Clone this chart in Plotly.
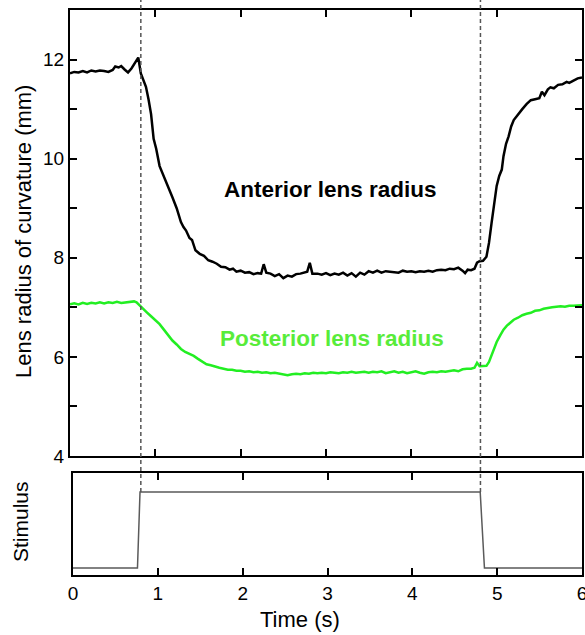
import plotly.graph_objects as go

# Anterior lens radius of curvature (mm) over time (s)
anterior_t = [0.00, 0.05, 0.10, 0.15, 0.20, 0.25, 0.30, 0.35, 0.40, 0.45, 0.50, 0.53, 0.57, 0.60, 0.64,
              0.68, 0.72, 0.76, 0.80, 0.83, 0.86, 0.89, 0.92, 0.95, 0.98, 1.01, 1.05, 1.10, 1.15, 1.20,
              1.25, 1.30, 1.33, 1.36, 1.40, 1.43, 1.47, 1.52, 1.57, 1.62, 1.67, 1.72, 1.77, 1.82, 1.87,
              1.91, 1.95, 2.00, 2.05, 2.10, 2.15, 2.20, 2.24, 2.27, 2.30, 2.35, 2.40, 2.45, 2.50, 2.55,
              2.60, 2.65, 2.70, 2.75, 2.78, 2.81, 2.84, 2.90, 2.95, 3.00, 3.05, 3.10, 3.15, 3.20, 3.25,
              3.30, 3.35, 3.40, 3.45, 3.50, 3.55, 3.60, 3.65, 3.70, 3.75, 3.80, 3.85, 3.90, 3.95, 4.00,
              4.05, 4.10, 4.15, 4.20, 4.25, 4.30, 4.35, 4.40, 4.45, 4.50, 4.55, 4.60, 4.63, 4.66, 4.70,
              4.74, 4.77, 4.80, 4.84, 4.88, 4.91, 4.94, 4.97, 5.00, 5.03, 5.06, 5.08, 5.11, 5.14, 5.17,
              5.20, 5.25, 5.30, 5.35, 5.40, 5.45, 5.50, 5.53, 5.56, 5.60, 5.63, 5.67, 5.72, 5.77, 5.82,
              5.85, 5.90, 5.95, 6.00]
anterior_r = [11.72, 11.75, 11.74, 11.77, 11.74, 11.78, 11.76, 11.78, 11.77, 11.75, 11.79, 11.86, 11.84, 11.87, 11.80,
              11.74, 11.82, 11.93, 12.04, 11.72, 11.60, 11.45, 11.20, 10.90, 10.40, 10.20, 9.85, 9.65, 9.42, 9.22,
              9.00, 8.72, 8.62, 8.55, 8.40, 8.36, 8.15, 8.08, 8.04, 7.95, 7.92, 7.88, 7.82, 7.81, 7.76,
              7.78, 7.72, 7.74, 7.70, 7.71, 7.67, 7.69, 7.68, 7.87, 7.70, 7.68, 7.63, 7.67, 7.59, 7.64,
              7.62, 7.67, 7.68, 7.70, 7.72, 7.90, 7.68, 7.68, 7.66, 7.69, 7.65, 7.68, 7.66, 7.70, 7.64,
              7.69, 7.62, 7.70, 7.66, 7.73, 7.70, 7.74, 7.70, 7.73, 7.72, 7.72, 7.70, 7.74, 7.72, 7.73,
              7.71, 7.73, 7.72, 7.74, 7.72, 7.75, 7.76, 7.75, 7.78, 7.77, 7.80, 7.74, 7.69, 7.76, 7.75,
              7.78, 7.90, 7.93, 7.94, 8.02, 8.30, 8.70, 9.05, 9.45, 9.65, 9.78, 10.05, 10.30, 10.45, 10.65,
              10.78, 10.90, 11.00, 11.10, 11.18, 11.20, 11.22, 11.35, 11.28, 11.40, 11.44, 11.42, 11.49, 11.50, 11.55,
              11.53, 11.58, 11.62, 11.64]

# Posterior lens radius of curvature (mm) over time (s)
posterior_t = [0.00, 0.05, 0.10, 0.15, 0.20, 0.25, 0.30, 0.35, 0.40, 0.45, 0.50, 0.55, 0.60, 0.65, 0.70,
               0.75, 0.78, 0.82, 0.86, 0.90, 0.95, 1.00, 1.05, 1.10, 1.15, 1.20, 1.25, 1.30, 1.35, 1.40,
               1.45, 1.50, 1.55, 1.60, 1.65, 1.70, 1.75, 1.80, 1.85, 1.90, 1.95, 2.00, 2.05, 2.10, 2.15,
               2.20, 2.25, 2.30, 2.35, 2.40, 2.45, 2.50, 2.55, 2.60, 2.65, 2.70, 2.75, 2.80, 2.85, 2.90,
               2.95, 3.00, 3.05, 3.10, 3.15, 3.20, 3.25, 3.30, 3.35, 3.40, 3.45, 3.50, 3.55, 3.60, 3.65,
               3.70, 3.75, 3.80, 3.85, 3.90, 3.95, 4.00, 4.05, 4.10, 4.15, 4.20, 4.25, 4.30, 4.35, 4.40,
               4.45, 4.50, 4.55, 4.60, 4.65, 4.70, 4.74, 4.77, 4.80, 4.84, 4.88, 4.91, 4.94, 4.97, 5.00,
               5.04, 5.08, 5.12, 5.16, 5.20, 5.25, 5.30, 5.35, 5.40, 5.45, 5.50, 5.55, 5.60, 5.65, 5.70,
               5.75, 5.80, 5.85, 5.90, 5.95, 6.00]
posterior_r = [7.06, 7.08, 7.06, 7.09, 7.07, 7.09, 7.08, 7.10, 7.08, 7.10, 7.09, 7.11, 7.09, 7.10, 7.11,
               7.12, 7.10, 7.04, 6.96, 6.90, 6.82, 6.74, 6.66, 6.55, 6.43, 6.33, 6.25, 6.16, 6.10, 6.06,
               6.02, 5.96, 5.90, 5.85, 5.83, 5.80, 5.78, 5.76, 5.74, 5.74, 5.72, 5.72, 5.70, 5.71, 5.69,
               5.70, 5.68, 5.69, 5.67, 5.68, 5.66, 5.65, 5.63, 5.65, 5.66, 5.65, 5.67, 5.66, 5.68, 5.67,
               5.68, 5.67, 5.69, 5.68, 5.67, 5.69, 5.68, 5.70, 5.68, 5.69, 5.70, 5.68, 5.70, 5.69, 5.71,
               5.67, 5.69, 5.71, 5.68, 5.70, 5.67, 5.69, 5.71, 5.68, 5.66, 5.69, 5.70, 5.69, 5.71, 5.70,
               5.72, 5.73, 5.71, 5.75, 5.76, 5.76, 5.78, 5.88, 5.81, 5.82, 5.82, 5.90, 6.03, 6.17, 6.30,
               6.43, 6.55, 6.63, 6.70, 6.75, 6.79, 6.84, 6.87, 6.89, 6.93, 6.94, 6.97, 6.99, 7.00, 7.01,
               7.02, 7.01, 7.03, 7.03, 7.04, 7.04]

# Stimulus trace (off = 0, on = 1)
stimulus_t = [0.00, 0.76, 0.79, 4.80, 4.85, 6.00]
stimulus_v = [0, 0, 1, 1, 0, 0]

# Stimulus onset / offset markers (s)
event_times = [0.83, 4.81]

x_ticks = [0, 1, 2, 3, 4, 5, 6]
y_ticks = [4, 5, 6, 7, 8, 9, 10, 11, 12]
y_ticklabels = ["4", "", "6", "", "8", "", "10", "", "12"]

W, H = 585, 635
FONT = "Liberation Sans, Arial, Helvetica, sans-serif"
GREEN_LINE = "#22ee22"
GREEN_TEXT = "#58ec3a"


def px_x(p):
    return p / W


def px_y(p):
    return 1 - p / H


fig = go.Figure()

fig.add_trace(go.Scatter(x=anterior_t, y=anterior_r, mode="lines",
                         line=dict(color="black", width=2.5), xaxis="x", yaxis="y",
                         showlegend=False, hoverinfo="skip"))
fig.add_trace(go.Scatter(x=posterior_t, y=posterior_r, mode="lines",
                         line=dict(color=GREEN_LINE, width=2.5), xaxis="x", yaxis="y",
                         showlegend=False, hoverinfo="skip"))
fig.add_trace(go.Scatter(x=stimulus_t, y=stimulus_v, mode="lines",
                         line=dict(color="#5a5a5a", width=1.5), xaxis="x2", yaxis="y2",
                         showlegend=False, hoverinfo="skip"))

axis_common = dict(showgrid=False, zeroline=False, showline=True, linecolor="black", linewidth=2,
                   ticks="inside", ticklen=7, tickwidth=2, tickcolor="black", automargin=False,
                   tickfont=dict(family=FONT, size=19, color="black"))

fig.update_layout(
    width=W, height=H,
    margin=dict(l=0, r=0, t=0, b=0, autoexpand=False),
    paper_bgcolor="white", plot_bgcolor="white",
    font=dict(family=FONT, color="black"),
    xaxis=dict(domain=[px_x(70), px_x(582)], range=[0, 6], tickvals=x_ticks,
               showticklabels=False, mirror="ticks", anchor="y", **axis_common),
    yaxis=dict(domain=[px_y(456), px_y(10)], range=[4, 13], tickvals=y_ticks,
               ticktext=y_ticklabels, mirror="ticks", anchor="x", **axis_common),
    xaxis2=dict(domain=[px_x(73), px_x(582)], range=[0, 6], tickvals=x_ticks,
                mirror="ticks", anchor="y2", ticklabeloverflow="allow", **axis_common),
    yaxis2=dict(domain=[px_y(575), px_y(473)], range=[-0.092, 1.25], anchor="x2",
                showgrid=False, zeroline=False, showline=True, linecolor="black", linewidth=2,
                mirror=True, ticks="", showticklabels=False, automargin=False),
)

# Dashed markers at stimulus onset and offset, spanning both panels
for t in event_times:
    fig.add_shape(type="line", xref="x", yref="paper", x0=t, x1=t,
                  y0=px_y(492), y1=1.0,
                  line=dict(color="#555555", width=1.5, dash="4px,3px"))

annotations = [
    dict(text="Anterior lens radius", x=3.05, y=9.38, xref="x", yref="y",
         font=dict(family=FONT, size=22.5, color="black", weight="bold")),
    dict(text="Posterior lens radius", x=3.07, y=6.37, xref="x", yref="y",
         font=dict(family=FONT, size=22.5, color=GREEN_TEXT, weight="bold")),
    dict(text="Lens radius of curvature (mm)", x=px_x(23), y=px_y(232), xref="paper", yref="paper",
         textangle=-90, font=dict(family=FONT, size=22, color="black")),
    dict(text="Stimulus", x=px_x(20), y=px_y(522), xref="paper", yref="paper",
         textangle=-90, font=dict(family=FONT, size=21, color="black")),
    dict(text="Time (s)", x=px_x(300), y=px_y(619), xref="paper", yref="paper",
         font=dict(family=FONT, size=22, color="black")),
]
for a in annotations:
    fig.add_annotation(showarrow=False, xanchor="center", yanchor="middle", **a)

fig.write_html("out.html")
